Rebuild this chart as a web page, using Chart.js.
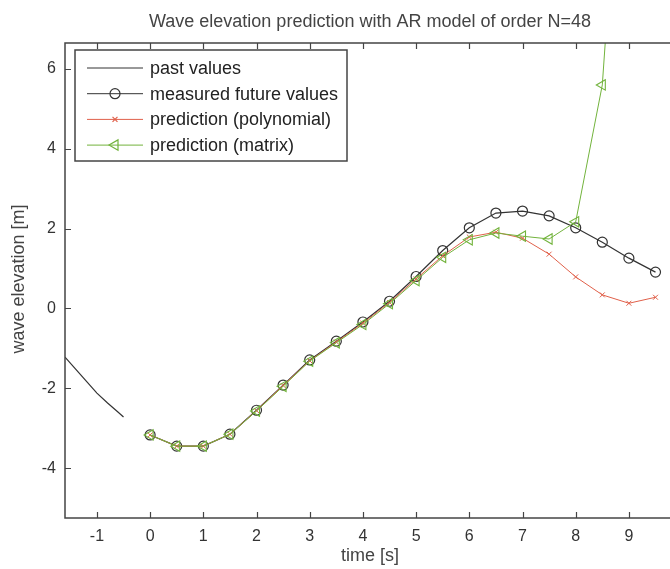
<!DOCTYPE html>
<html>
<head>
<meta charset="utf-8">
<title>Wave elevation prediction</title>
<script src="https://cdn.jsdelivr.net/npm/chart.js@4.4.1/dist/chart.umd.min.js"></script>
<style>
  html, body { margin: 0; padding: 0; background: #fff; overflow: hidden; }
  #waveChart { display: block; }
</style>
</head>
<body>
<canvas id="waveChart" width="700" height="569"></canvas>
<script>
// time axes
const pastTime = [-1.6, -1.4, -1.2, -1.0, -0.8, -0.6, -0.5];
const futureTime = [0, 0.5, 1, 1.5, 2, 2.5, 3, 3.5, 4, 4.5, 5, 5.5, 6, 6.5, 7, 7.5, 8, 8.5, 9, 9.5];

// wave elevation [m]
const pastValues = [-1.22, -1.52, -1.82, -2.12, -2.37, -2.60, -2.72];
const measuredValues = [-3.17, -3.45, -3.45, -3.15, -2.55, -1.92, -1.29, -0.82, -0.34, 0.18,
                        0.80, 1.45, 2.02, 2.39, 2.44, 2.32, 2.02, 1.66, 1.26, 0.91];
const polyValues = [-3.17, -3.45, -3.45, -3.15, -2.56, -1.93, -1.31, -0.84, -0.37, 0.15,
                    0.74, 1.32, 1.79, 1.91, 1.76, 1.36, 0.79, 0.34, 0.13, 0.28];
const matrixValues = [-3.17, -3.45, -3.45, -3.15, -2.57, -1.95, -1.32, -0.86, -0.40, 0.12,
                      0.70, 1.28, 1.72, 1.89, 1.81, 1.74, 2.17, 5.60, 15.2];

const xTicks = [-1, 0, 1, 2, 3, 4, 5, 6, 7, 8, 9, 10];
const yTicks = [-4, -2, 0, 2, 4, 6];

const seriesNames = ['past values', 'measured future values', 'prediction (polynomial)', 'prediction (matrix)'];
const titleText = 'Wave elevation prediction with AR model of order N=48';
const xLabel = 'time [s]';
const yLabel = 'wave elevation [m]';

const BLACK = '#333333';
const RED = '#e0604a';
const GREEN = '#72b33c';
const FONT = '"Liberation Sans", Arial, sans-serif';

const toPoints = (xs, ys) => ys.map((y, i) => ({ x: xs[i], y: y }));

// matlab style box: frame, inward ticks, legend, title, axis labels
const matlabBox = {
    id: 'matlabBox',
    afterDatasetsDraw(chart) {
        const { ctx, chartArea: a, scales } = chart;
        ctx.save();
        ctx.strokeStyle = '#444';
        ctx.lineWidth = 1.5;
        ctx.strokeRect(a.left, a.top, a.right - a.left, a.bottom - a.top);

        ctx.beginPath();
        xTicks.forEach(v => {
            const px = Math.round(scales.x.getPixelForValue(v)) + 0.5;
            ctx.moveTo(px, a.bottom); ctx.lineTo(px, a.bottom - 6);
            ctx.moveTo(px, a.top); ctx.lineTo(px, a.top + 6);
        });
        yTicks.forEach(v => {
            const py = Math.round(scales.y.getPixelForValue(v)) + 0.5;
            ctx.moveTo(a.left, py); ctx.lineTo(a.left + 6, py);
            ctx.moveTo(a.right, py); ctx.lineTo(a.right - 6, py);
        });
        ctx.lineWidth = 1.2;
        ctx.stroke();

        // legend
        const lx = 75, ly = 50, lw = 272, lh = 111;
        ctx.fillStyle = '#fff';
        ctx.fillRect(lx, ly, lw, lh);
        ctx.strokeStyle = '#444';
        ctx.lineWidth = 1.5;
        ctx.strokeRect(lx, ly, lw, lh);

        ctx.textBaseline = 'middle';
        ctx.textAlign = 'left';
        chart.data.datasets.forEach((ds, i) => {
            const y = 68 + i * 25.7;
            ctx.strokeStyle = ds.borderColor;
            ctx.lineWidth = 1;
            ctx.beginPath();
            ctx.moveTo(87, y); ctx.lineTo(143, y);
            ctx.stroke();
            if (ds.pointRadius > 0) {
                ctx.fillStyle = 'rgba(0,0,0,0)';
                ctx.strokeStyle = ds.borderColor;
                ctx.lineWidth = 1.2;
                Chart.helpers.drawPoint(ctx, {
                    pointStyle: ds.pointStyle,
                    rotation: ds.pointRotation || 0,
                    radius: ds.pointRadius,
                    borderWidth: 1.2
                }, 115, y);
            }
            ctx.font = '18px ' + FONT;
            ctx.fillStyle = '#222';
            ctx.fillText(ds.label, 150, y + 1);
        });

        // title and axis labels
        ctx.fillStyle = '#444';
        ctx.textAlign = 'center';
        ctx.font = '18px ' + FONT;
        ctx.fillText(titleText, 370, 22);
        ctx.fillText(xLabel, 370, 556);
        ctx.translate(19, 279);
        ctx.rotate(-Math.PI / 2);
        ctx.fillText(yLabel, 0, 0);
        ctx.restore();
    }
};

new Chart(document.getElementById('waveChart'), {
    type: 'line',
    data: {
        datasets: [
            {
                label: seriesNames[0],
                data: toPoints(pastTime, pastValues),
                borderColor: BLACK,
                borderWidth: 1.2,
                pointRadius: 0,
                order: 3
            },
            {
                label: seriesNames[1],
                data: toPoints(futureTime, measuredValues),
                borderColor: BLACK,
                borderWidth: 1.2,
                pointStyle: 'circle',
                pointRadius: 5,
                pointBorderWidth: 1.2,
                pointBorderColor: BLACK,
                pointBackgroundColor: 'rgba(0,0,0,0)',
                order: 2
            },
            {
                label: seriesNames[2],
                data: toPoints(futureTime, polyValues),
                borderColor: RED,
                borderWidth: 1,
                pointStyle: 'crossRot',
                pointRadius: 3.5,
                pointBorderWidth: 1,
                pointBorderColor: RED,
                order: 1
            },
            {
                label: seriesNames[3],
                data: toPoints(futureTime, matrixValues),
                borderColor: GREEN,
                borderWidth: 1,
                pointStyle: 'triangle',
                pointRotation: -90,
                pointRadius: 6,
                pointBorderWidth: 1.1,
                pointBorderColor: GREEN,
                pointBackgroundColor: 'rgba(0,0,0,0)',
                order: 0
            }
        ]
    },
    options: {
        responsive: false,
        animation: false,
        devicePixelRatio: 1,
        layout: { padding: { top: 43, right: 15, left: 0, bottom: 0 } },
        plugins: {
            legend: { display: false },
            tooltip: { enabled: false }
        },
        elements: { line: { tension: 0 } },
        scales: {
            x: {
                type: 'linear',
                min: -1.6,
                max: 10,
                afterFit: s => { s.height = 51; },
                afterBuildTicks: s => { s.ticks = xTicks.map(v => ({ value: v })); },
                grid: { display: false, drawTicks: false },
                border: { display: false },
                ticks: { color: '#333', padding: 9, font: { family: FONT, size: 16 } }
            },
            y: {
                type: 'linear',
                min: -5.25,
                max: 6.65,
                afterFit: s => { s.width = 65; },
                afterBuildTicks: s => { s.ticks = yTicks.map(v => ({ value: v })); },
                grid: { display: false, drawTicks: false },
                border: { display: false },
                ticks: { color: '#333', padding: 9, font: { family: FONT, size: 16 } }
            }
        }
    },
    plugins: [matlabBox]
});
</script>
</body>
</html>
